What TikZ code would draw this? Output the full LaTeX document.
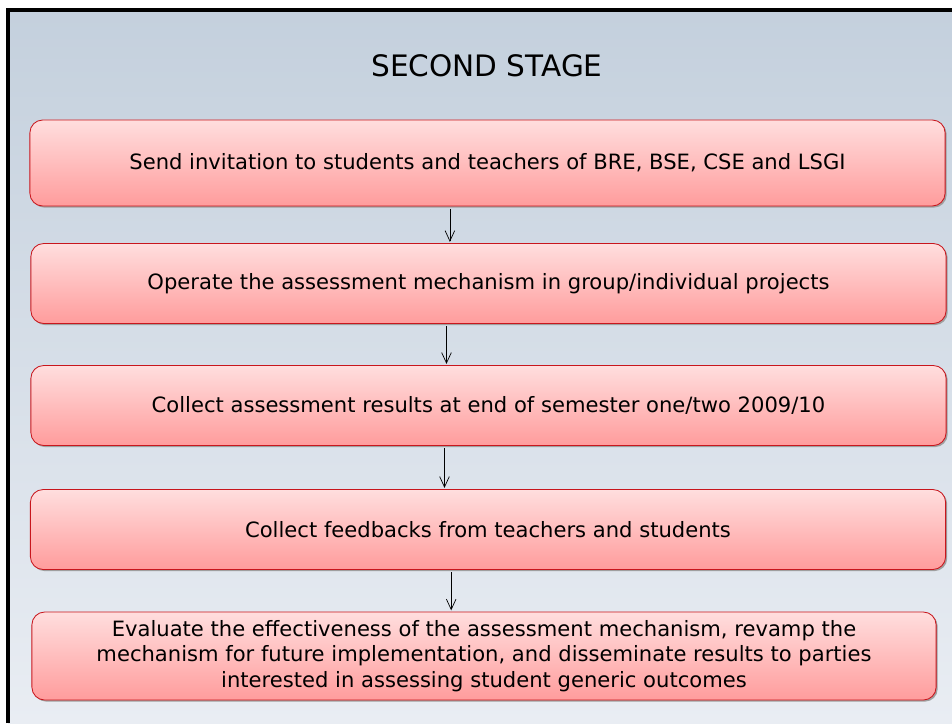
\documentclass[tikz,border=0pt]{standalone}
\usepackage{fontspec}
\setmainfont{DejaVu Sans}
\usetikzlibrary{shadows,arrows.meta}

\definecolor{panelTop}{HTML}{C4D0DD}
\definecolor{panelBottom}{HTML}{E9EDF3}
\definecolor{boxTop}{HTML}{FFDEDE}
\definecolor{boxBottom}{HTML}{FF9C9C}
\definecolor{boxLine}{HTML}{C8161D}

\tikzset{
  stagebox/.style={draw=boxLine, line width=0.6pt, rounded corners=0.32cm,
    top color=boxTop, bottom color=boxBottom, minimum width=22.875cm,
    align=center, font=\fontsize{15}{18}\selectfont,
    drop shadow={shadow xshift=0.04cm, shadow yshift=-0.04cm, fill=gray!75, opacity=1}},
  flow/.style={-{Straight Barb[length=0.26cm,width=0.24cm]}, line width=0.5pt,
    shorten <=0.06cm, shorten >=0.03cm}
}

\begin{document}
\begin{tikzpicture}[x=0.025cm, y=-0.025cm]
  \useasboundingbox (0,0) rectangle (952,723);
  \fill[top color=panelTop, bottom color=panelBottom] (8,10) rectangle (952,723);
  \draw[line width=2.4pt] (8,723) -- (8,10) -- (952,10);

  \node[font=\fontsize{21}{24}\selectfont] (title) at (487,66) {SECOND STAGE};

  \node[stagebox, minimum height=2.15cm] (invite) at (487.5,163)
    {Send invitation to students and teachers of BRE, BSE, CSE and LSGI};
  \node[stagebox, minimum height=2cm] (operate) at (488.5,283.5)
    {Operate the assessment mechanism in group/individual projects};
  \node[stagebox, minimum height=2cm] (collect) at (488.5,405.5)
    {Collect assessment results at end of semester one/two 2009/10};
  \node[stagebox, minimum height=2cm] (feedback) at (488,529.5)
    {Collect feedbacks from teachers and students};
  \node[stagebox, minimum width=22.6cm, minimum height=2.2cm] (evaluate) at (484,656)
    {Evaluate the effectiveness of the assessment mechanism, revamp the\\
     mechanism for future implementation, and disseminate results to parties\\
     interested in assessing student generic outcomes};

  \draw[flow] ([xshift=-0.94cm]invite.south) -- ([xshift=-0.94cm]invite.south |- operate.north);
  \draw[flow] ([xshift=-1.05cm]operate.south) -- ([xshift=-1.05cm]operate.south |- collect.north);
  \draw[flow] ([xshift=-1.1cm]collect.south) -- ([xshift=-1.1cm]collect.south |- feedback.north);
  \draw[flow] ([xshift=-0.92cm]feedback.south) -- ([xshift=-0.92cm]feedback.south |- evaluate.north);
\end{tikzpicture}
\end{document}
